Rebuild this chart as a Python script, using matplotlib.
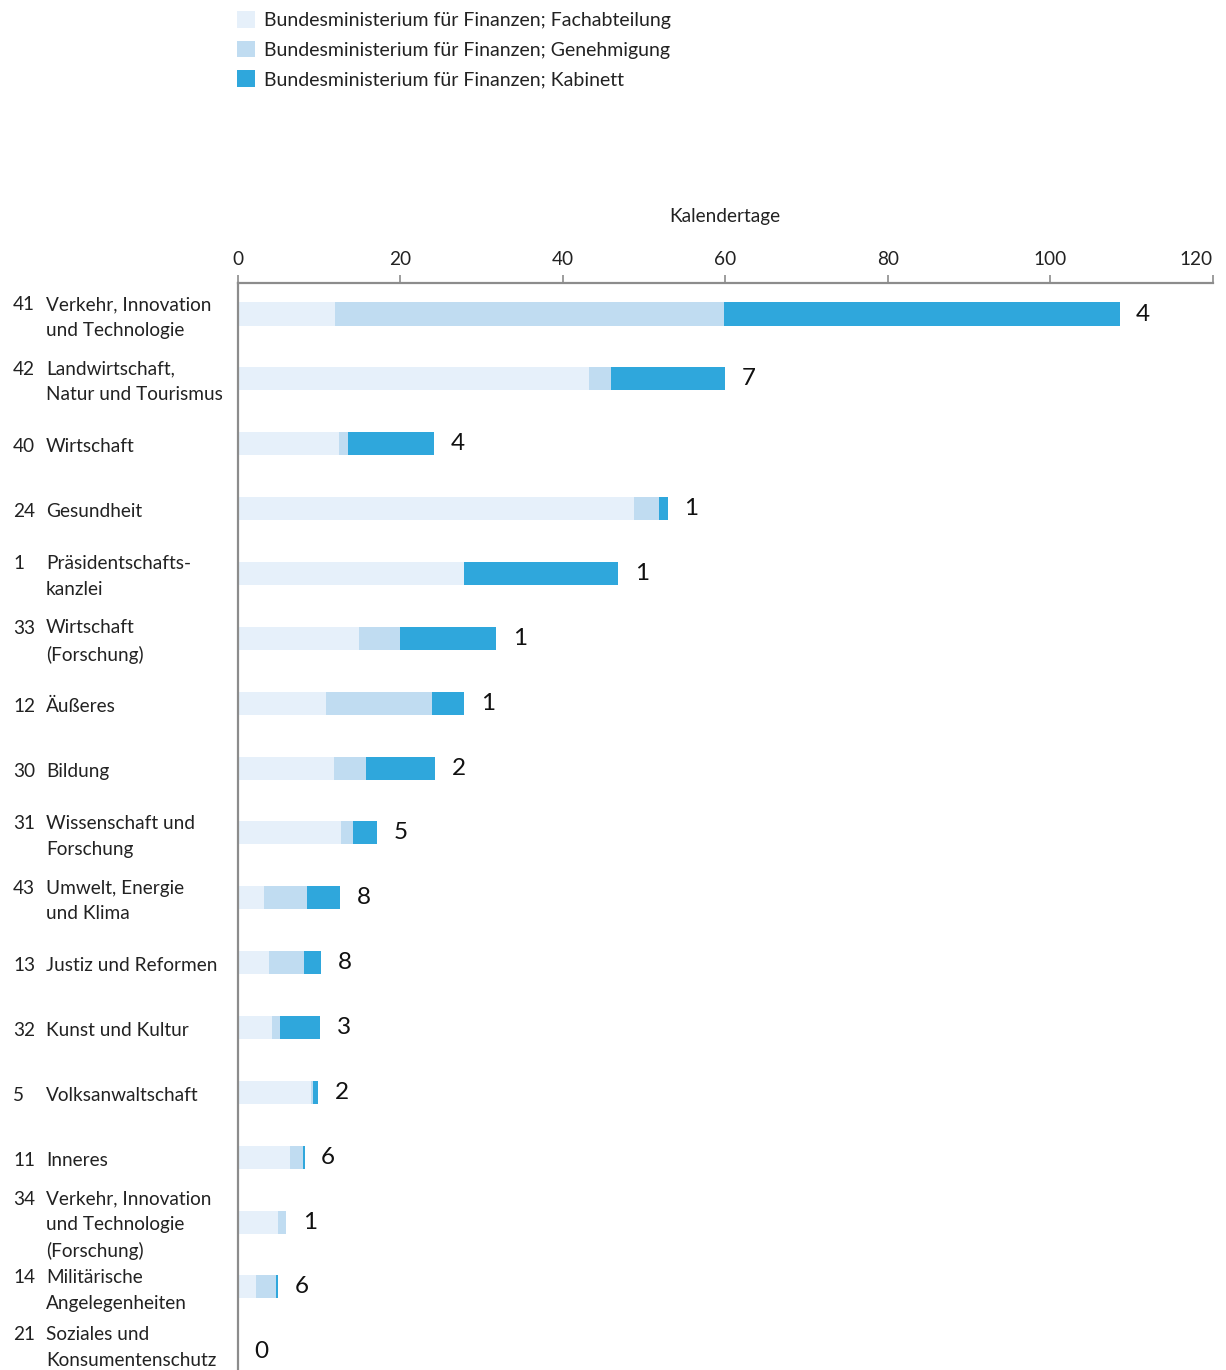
import matplotlib
matplotlib.use("Agg")
import matplotlib.pyplot as plt
import matplotlib.transforms as mtransforms
from matplotlib.patches import Patch

plt.rcParams['font.family'] = ['Lato', 'DejaVu Sans']

# Budget chapters (UG number and name), top to bottom
ug_numbers = ["41", "42", "40", "24", "1", "33", "12", "30", "31", "43",
              "13", "32", "5", "11", "34", "14", "21"]
ug_names = [
    "Verkehr, Innovation\nund Technologie",
    "Landwirtschaft,\nNatur und Tourismus",
    "Wirtschaft",
    "Gesundheit",
    "Präsidentschafts-\nkanzlei",
    "Wirtschaft\n(Forschung)",
    "Äußeres",
    "Bildung",
    "Wissenschaft und\nForschung",
    "Umwelt, Energie\nund Klima",
    "Justiz und Reformen",
    "Kunst und Kultur",
    "Volksanwaltschaft",
    "Inneres",
    "Verkehr, Innovation\nund Technologie\n(Forschung)",
    "Militärische\nAngelegenheiten",
    "Soziales und\nKonsumentenschutz",
]

# Calendar days per approval stage
fachabteilung = [12.0, 43.3, 12.5, 48.8, 27.9, 14.9, 10.9, 11.9, 12.7, 3.3,
                 3.9, 4.2, 9.0, 6.5, 5.0, 2.3, 0.0]
genehmigung = [47.8, 2.6, 1.1, 3.1, 0.0, 5.1, 13.0, 3.9, 1.5, 5.2,
               4.3, 1.0, 0.3, 1.6, 1.0, 2.4, 0.0]
kabinett = [48.7, 14.1, 10.6, 1.0, 18.9, 11.8, 4.0, 8.5, 3.0, 4.1,
            2.1, 5.0, 0.6, 0.15, 0.0, 0.25, 0.0]

# Number of cases per chapter
anzahl = [4, 7, 4, 1, 1, 1, 1, 2, 5, 8, 8, 3, 2, 6, 1, 6, 0]

series_labels = [
    "Bundesministerium für Finanzen; Fachabteilung",
    "Bundesministerium für Finanzen; Genehmigung",
    "Bundesministerium für Finanzen; Kabinett",
]
x_ticks = [0, 20, 40, 60, 80, 100, 120]
x_title = "Kalendertage"

colors = ["#E6F0FA", "#C0DCF1", "#2FA7DC"]
axis_grey = "#8C8C8C"
text_col = "#222222"

W, H = 1226, 1370
fig = plt.figure(figsize=(W / 100, H / 100), dpi=100)
ax = fig.add_axes([237.5 / W, 0.0, (1213 - 237.5) / W, 1 - 283 / H])

y = list(range(len(ug_numbers)))
bar_h = 0.355
left = [0.0] * len(y)
for vals, col in zip([fachabteilung, genehmigung, kabinett], colors):
    ax.barh(y, vals, left=left, height=bar_h, color=col, linewidth=0)
    left = [a + b for a, b in zip(left, vals)]

for yi, total, n in zip(y, left, anzahl):
    ax.annotate(str(n), xy=(total, yi), xytext=(12, 0), textcoords="offset points",
                ha="left", va="center", fontsize=17.5, color="#111111")

ax.set_xlim(0, 120)
ax.set_ylim(16.28, -0.478)
ax.set_yticks([])
ax.set_xticks(x_ticks)
ax.xaxis.tick_top()
ax.xaxis.set_label_position("top")
ax.tick_params(axis="x", direction="out", length=6, width=1.2, color=axis_grey,
               labelsize=13.7, labelcolor=text_col, pad=5)
ax.get_xticklabels()[-1].set_horizontalalignment("right")
ax.set_xlabel(x_title, fontsize=13.7, color=text_col, labelpad=21)

for side in ["right", "bottom"]:
    ax.spines[side].set_visible(False)
for side in ["top", "left"]:
    ax.spines[side].set_color(axis_grey)
    ax.spines[side].set_linewidth(1.6)

# Chapter labels on the left; the number sits on the first line of the name
trans = mtransforms.blended_transform_factory(fig.transFigure, ax.transData)
last = len(y) - 1
for yi, num, name in zip(y, ug_numbers, ug_names):
    n_lines = name.count("\n") + 1
    num_block = num + "\n " * (n_lines - 1)
    yo = yi + (0.05 if yi != last else -0.07)
    ax.text(13 / W, yo, num_block, transform=trans, ha="left", va="center",
            fontsize=13.7, color=text_col, linespacing=1.62, clip_on=False)
    ax.text(46 / W, yo, name, transform=trans, ha="left", va="center",
            fontsize=13.7, color=text_col, linespacing=1.62, clip_on=False)

handles = [Patch(facecolor=c, edgecolor="none") for c in colors]
fig.legend(handles, series_labels, loc="upper left",
           bbox_to_anchor=(233 / W, 1 - 7 / H), frameon=False, fontsize=14,
           handlelength=0.95, handleheight=0.95, handletextpad=0.45,
           labelspacing=0.6, borderpad=0.2, borderaxespad=0.0, labelcolor=text_col)

fig.savefig("out.png", dpi=100)
